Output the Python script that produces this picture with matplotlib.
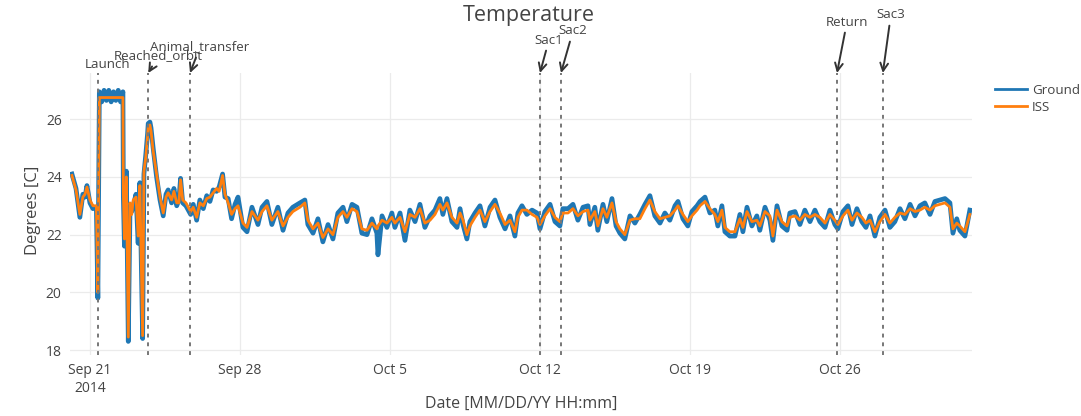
import matplotlib
matplotlib.use("Agg")
import matplotlib.pyplot as plt
import matplotlib.dates as mdates
from matplotlib.lines import Line2D
import pandas as pd

# days after 2014-09-21 00:00
days = [
    -0.84, -0.65, -0.47, -0.33, -0.23, -0.14, 0.00, 0.14, 0.30, 0.37,
    0.44, 0.55, 0.66, 0.77, 0.88, 0.99, 1.10, 1.21, 1.32, 1.43,
    1.54, 1.56, 1.61, 1.70, 1.79, 1.87, 1.95, 2.02, 2.15, 2.25,
    2.33, 2.46, 2.52, 2.61, 2.69, 2.72, 2.80, 2.85, 2.95, 3.11,
    3.27, 3.42, 3.55, 3.65, 3.81, 3.92, 4.05, 4.15, 4.23, 4.33,
    4.48, 4.59, 4.70, 4.82, 4.98, 5.13, 5.29, 5.45, 5.60, 5.75,
    5.91, 6.03, 6.19, 6.30, 6.45, 6.61, 6.77, 6.91, 7.14, 7.33,
    7.56, 7.84, 8.03, 8.26, 8.49, 8.77, 9.01, 9.24, 9.47, 9.80,
    10.03, 10.17, 10.41, 10.64, 10.87, 11.11, 11.34, 11.57, 11.81, 11.99,
    12.23, 12.46, 12.69, 12.93, 13.16, 13.39, 13.44, 13.63, 13.86, 14.09,
    14.23, 14.47, 14.70, 14.93, 15.17, 15.40, 15.63, 15.87, 16.10, 16.33,
    16.47, 16.66, 16.89, 17.13, 17.27, 17.41, 17.59, 17.73, 17.97, 18.20,
    18.43, 18.67, 18.90, 19.13, 19.37, 19.60, 19.83, 19.97, 20.16, 20.39,
    20.63, 20.86, 21.00, 21.23, 21.47, 21.70, 21.93, 22.07, 22.31, 22.54,
    22.77, 23.01, 23.24, 23.33, 23.56, 23.70, 23.94, 24.12, 24.36, 24.55,
    24.73, 24.96, 25.20, 25.43, 25.66, 25.90, 26.13, 26.36, 26.60, 26.83,
    27.06, 27.30, 27.44, 27.67, 27.90, 28.09, 28.33, 28.47, 28.70, 28.93,
    29.16, 29.30, 29.49, 29.63, 29.86, 30.10, 30.33, 30.47, 30.66, 30.89,
    31.12, 31.26, 31.50, 31.73, 31.87, 32.06, 32.29, 32.53, 32.66, 32.90,
    33.13, 33.36, 33.60, 33.83, 34.06, 34.30, 34.53, 34.76, 34.90, 35.14,
    35.37, 35.56, 35.79, 36.02, 36.21, 36.40, 36.63, 36.86, 37.10, 37.33,
    37.56, 37.80, 38.03, 38.27, 38.50, 38.73, 38.96, 39.20, 39.43, 39.66,
    39.90, 40.13, 40.27, 40.45, 40.59, 40.83, 41.06,
]

iss = [
    24.05, 23.55, 22.70, 23.30, 23.40, 23.65, 23.20, 23.00, 23.00, 20.00,
    26.75, 26.75, 26.75, 26.75, 26.75, 26.75, 26.75, 26.75, 26.75, 26.75,
    26.75, 23.45, 21.85, 24.00, 18.45, 23.10, 22.70, 23.20, 23.30, 21.95,
    23.70, 18.50, 24.20, 24.70, 25.40, 25.75, 25.80, 25.60, 24.90, 24.10,
    23.30, 22.75, 23.30, 23.45, 23.20, 23.50, 23.10, 23.10, 23.90, 23.20,
    23.10, 22.95, 22.80, 22.95, 22.60, 23.10, 23.00, 23.25, 23.30, 23.45,
    23.60, 23.50, 24.05, 23.40, 23.10, 22.70, 22.90, 23.00, 22.40, 22.25,
    22.80, 22.50, 22.80, 23.00, 22.50, 22.80, 22.30, 22.60, 22.80, 22.95,
    23.10, 22.50, 22.20, 22.40, 21.90, 22.20, 22.00, 22.60, 22.80, 22.60,
    22.90, 22.80, 22.20, 22.15, 22.40, 22.20, 22.30, 22.50, 22.40, 22.60,
    22.40, 22.60, 22.10, 22.70, 22.60, 22.90, 22.40, 22.50, 22.70, 23.05,
    22.85, 23.10, 22.60, 22.40, 22.75, 22.50, 22.00, 22.30, 22.60, 22.85,
    22.45, 22.80, 23.05, 22.75, 22.35, 22.50, 22.10, 22.60, 22.85, 22.85,
    22.70, 22.60, 22.35, 22.65, 22.90, 22.60, 22.45, 22.75, 22.75, 22.90,
    22.65, 22.80, 22.85, 22.50, 22.80, 22.30, 22.90, 22.60, 23.10, 22.45,
    22.20, 22.00, 22.50, 22.55, 22.55, 22.90, 23.20, 22.80, 22.55, 22.60,
    22.65, 22.85, 23.00, 22.70, 22.45, 22.65, 22.85, 23.00, 23.15, 22.90,
    22.70, 22.45, 22.85, 22.25, 22.10, 22.10, 22.55, 22.25, 22.80, 22.45,
    22.50, 22.30, 22.80, 22.65, 21.95, 22.85, 22.45, 22.30, 22.60, 22.65,
    22.50, 22.70, 22.60, 22.70, 22.60, 22.40, 22.70, 22.50, 22.35, 22.65,
    22.85, 22.50, 22.75, 22.60, 22.40, 22.50, 22.10, 22.45, 22.70, 22.40,
    22.60, 22.75, 22.70, 22.90, 22.80, 22.85, 22.95, 22.85, 23.00, 23.05,
    23.10, 22.95, 22.20, 22.40, 22.30, 22.10, 22.70,
]

ground = [
    24.10, 23.60, 22.60, 23.40, 23.30, 23.70, 23.10, 22.90, 22.95, 19.80,
    26.95, 26.60, 27.00, 26.65, 27.00, 26.60, 26.95, 26.65, 27.00, 26.60,
    26.95, 23.30, 21.60, 24.20, 18.30, 22.90, 22.80, 23.00, 23.40, 21.70,
    23.80, 18.40, 24.10, 24.80, 25.50, 25.85, 25.90, 25.70, 25.00, 24.00,
    23.20, 22.65, 23.40, 23.55, 23.10, 23.60, 23.00, 23.20, 23.95, 23.10,
    23.00, 22.85, 22.70, 23.05, 22.50, 23.20, 22.90, 23.35, 23.15, 23.55,
    23.50, 23.65, 24.10, 23.30, 23.25, 22.55, 23.05, 23.30, 22.25, 22.10,
    22.95, 22.35, 22.95, 23.15, 22.35, 22.95, 22.15, 22.75, 22.95, 23.10,
    23.20, 22.35, 22.05, 22.55, 21.75, 22.35, 21.85, 22.75, 22.95, 22.45,
    23.05, 22.95, 22.05, 22.00, 22.55, 22.05, 21.30, 22.65, 22.25, 22.75,
    22.25, 22.75, 21.80, 22.85, 22.45, 23.05, 22.25, 22.65, 22.85, 23.25,
    22.70, 23.25, 22.45, 22.25, 22.90, 22.35, 21.85, 22.45, 22.75, 23.00,
    22.30, 22.95, 23.20, 22.60, 22.20, 22.65, 21.95, 22.75, 23.00, 22.70,
    22.85, 22.75, 22.20, 22.80, 23.05, 22.45, 22.30, 22.90, 22.90, 23.05,
    22.50, 22.95, 23.00, 22.35, 22.95, 22.15, 23.05, 22.45, 23.25, 22.30,
    22.05, 21.85, 22.65, 22.40, 22.70, 23.05, 23.35, 22.65, 22.40, 22.75,
    22.50, 23.00, 23.15, 22.55, 22.30, 22.80, 23.00, 23.15, 23.30, 22.75,
    22.85, 22.30, 23.00, 22.10, 21.95, 21.95, 22.70, 22.10, 22.95, 22.30,
    22.65, 22.15, 22.95, 22.50, 21.80, 23.00, 22.30, 22.15, 22.75, 22.80,
    22.35, 22.85, 22.45, 22.85, 22.45, 22.25, 22.85, 22.35, 22.20, 22.80,
    23.00, 22.35, 22.90, 22.45, 22.25, 22.65, 21.95, 22.60, 22.85, 22.25,
    22.45, 22.90, 22.55, 23.05, 22.65, 23.00, 23.10, 22.70, 23.15, 23.20,
    23.25, 23.10, 22.05, 22.55, 22.15, 21.95, 22.85,
]

event_names = ["Launch", "Reached_orbit", "Animal_transfer", "Sac1", "Sac2", "Return", "Sac3"]
event_days = [0.37, 2.72, 4.67, 21.0, 21.98, 34.86, 37.0]
# label offset from the arrow tip, in pixels (dx, dy)
event_offsets = [(10, 9), (10, 17), (10, 26), (9, 33), (12, 42), (10, 51), (8, 58)]

tick_days = [0, 7, 14, 21, 28, 35]
tick_labels = ["Sep 21\n2014", "Sep 28", "Oct 5", "Oct 12", "Oct 19", "Oct 26"]

base = pd.Timestamp("2014-09-21")
to_time = lambda d: base + pd.to_timedelta(d, unit="D")
t = [to_time(d) for d in days]

txt = "#444444"
c_ground, c_iss = "#1f77b4", "#ff7f0e"
plt.rcParams["font.family"] = ["Open Sans", "DejaVu Sans"]

fig = plt.figure(figsize=(10.81, 4.16), dpi=100)
ax = fig.add_axes([70 / 1081, 1 - 355 / 416, (972 - 70) / 1081, (355 - 73) / 416])

ax.plot(t, ground, color=c_ground, lw=3.4, solid_joinstyle="round")
ax.plot(t, iss, color=c_iss, lw=2.0, solid_joinstyle="round")

ax.set_xlim(to_time(-0.93), to_time(41.16))
ax.set_ylim(17.83, 27.6)

for name, d, (dx, dy) in zip(event_names, event_days, event_offsets):
    ax.axvline(to_time(d), color="#777777", ls=(0, (2, 2.5)), lw=1.4, zorder=3)
    arrow = None
    if name != "Launch":
        arrow = dict(arrowstyle="->", color="#333333", lw=1.4, mutation_scale=14,
                     shrinkA=1, shrinkB=0)
    ax.annotate(name, xy=(mdates.date2num(to_time(d)), 1.0),
                xycoords=("data", "axes fraction"),
                xytext=(dx, dy), textcoords="offset pixels",
                ha="center", va="center", fontsize=9.6, color=txt,
                arrowprops=arrow, annotation_clip=False)

ax.set_xticks([to_time(d) for d in tick_days])
ax.set_xticklabels(tick_labels)
ax.set_yticks([18, 20, 22, 24, 26])
ax.tick_params(length=0, labelsize=10, colors=txt, pad=6)
ax.grid(True, color="#ebebeb", lw=0.9)
ax.set_axisbelow(True)
for s in ax.spines.values():
    s.set_visible(False)

fig.text(33 / 1081, 1 - 210 / 416, "Degrees [C]", rotation=90, ha="center", va="center",
         fontsize=12, color=txt)
fig.text(521 / 1081, 1 - 404 / 416, "Date [MM/DD/YY HH:mm]", ha="center", va="center",
         fontsize=11.5, color=txt)
fig.text(529 / 1081, 1 - 16 / 416, "Temperature", ha="center", va="center",
         fontsize=15.5, color=txt)

handles = [Line2D([], [], color=c_ground, lw=2), Line2D([], [], color=c_iss, lw=2)]
fig.legend(handles, ["Ground", "ISS"], loc="upper left",
           bbox_to_anchor=(995 / 1081, 1 - 84 / 416), borderpad=0, borderaxespad=0,
           frameon=False, fontsize=9.6, handlelength=2.4, handletextpad=0.38,
           labelspacing=0.3, labelcolor=txt)

fig.savefig("out.png", dpi=100)
